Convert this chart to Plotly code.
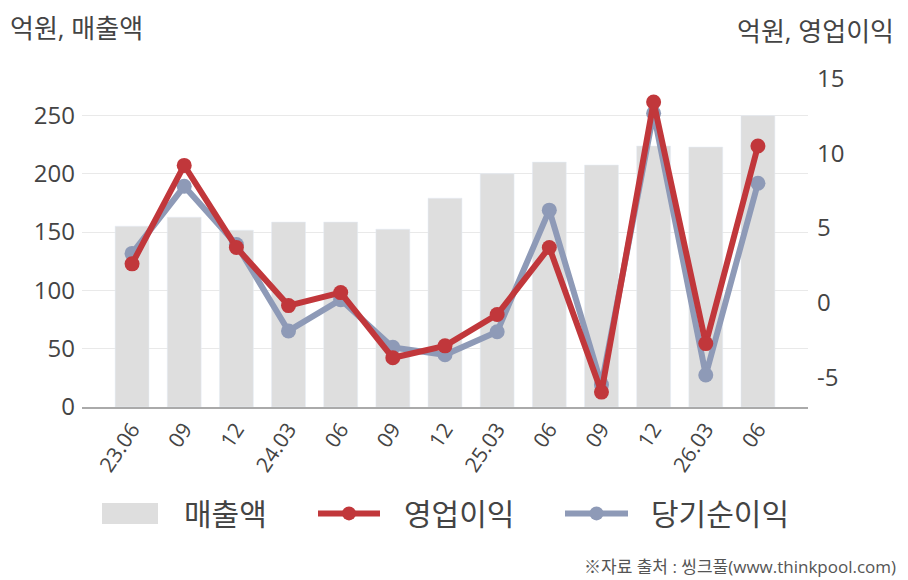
import plotly.graph_objects as go

# 분기 라벨과 실적 (억원)
quarters = ["23.06", "09", "12", "24.03", "06", "09", "12",
            "25.03", "06", "09", "12", "26.03", "06"]
sales = [155, 162.7, 151.6, 158.5, 158.5, 152.4, 179, 199.9, 209.9, 207.4, 223.7, 222.8, 249.7]
op_income = [2.6, 9.2, 3.7, -0.2, 0.67, -3.7, -2.9, -0.8, 3.7, -6.0, 13.45, -2.75, 10.5]
net_income = [3.3, 7.8, 3.9, -1.9, 0.2, -3.0, -3.5, -1.95, 6.2, -5.5, 12.7, -4.85, 8.0]
left_ticks = [0, 50, 100, 150, 200, 250]
right_ticks = [-5, 0, 5, 10, 15]

RED = "#c1373b"
BLUE = "#8e9ab7"
GREY_BAR = "#dedede"
TXT = "#444444"
FONT = "Open Sans, Noto Sans CJK KR"

W, H = 908, 580
L, R, T, B = 82, 808, 64, 406.7

xs = list(range(len(quarters)))

fig = go.Figure()
fig.add_trace(go.Bar(x=xs, y=sales, name="매출액", marker_color=GREY_BAR,
                     width=0.65, yaxis="y"))
fig.add_trace(go.Scatter(x=xs, y=net_income, name="당기순이익", yaxis="y2",
                         mode="lines+markers",
                         line=dict(color=BLUE, width=6),
                         marker=dict(color=BLUE, size=15)))
fig.add_trace(go.Scatter(x=xs, y=op_income, name="영업이익", yaxis="y2",
                         mode="lines+markers",
                         line=dict(color=RED, width=6),
                         marker=dict(color=RED, size=15)))


def px(x):
    return (x - L) / (R - L)


def py(y):
    return (B - y) / (B - T)


shapes = []
annotations = [
    dict(text="억원, 매출액", x=px(8), y=py(28), xanchor="left", yanchor="middle",
         font=dict(size=26, color=TXT)),
    dict(text="억원, 영업이익", x=px(896), y=py(31), xanchor="right", yanchor="middle",
         font=dict(size=26, color=TXT)),
    dict(text="※자료 출처 : 씽크풀(www.thinkpool.com)", x=px(898), y=py(566),
         xanchor="right", yanchor="middle", font=dict(size=17, color="#555555")),
]

# 범례 (직접 그림)
legend_items = [
    ("매출액", "bar", 102, 158, 182),
    ("영업이익", RED, 318, 380, 402),
    ("당기순이익", BLUE, 565, 628, 649),
]
ly = 513
for label, kind, x0, x1, tx in legend_items:
    if kind == "bar":
        shapes.append(dict(type="rect", xref="paper", yref="paper",
                           x0=px(x0), x1=px(x1), y0=py(ly + 10.5), y1=py(ly - 10.5),
                           fillcolor=GREY_BAR, line_width=0))
    else:
        shapes.append(dict(type="line", xref="paper", yref="paper",
                           x0=px(x0), x1=px(x1), y0=py(ly), y1=py(ly),
                           line=dict(color=kind, width=6)))
        cx = (x0 + x1) / 2
        shapes.append(dict(type="circle", xref="paper", yref="paper",
                           x0=px(cx - 7), x1=px(cx + 7), y0=py(ly + 7), y1=py(ly - 7),
                           fillcolor=kind, line_width=0))
    annotations.append(dict(text=label, x=px(tx), y=py(ly), xanchor="left",
                            yanchor="middle", font=dict(size=30, color=TXT)))

for a in annotations:
    a.update(xref="paper", yref="paper", showarrow=False)

fig.update_layout(
    width=W, height=H,
    margin=dict(l=L, r=W - R, t=T, b=H - B),
    paper_bgcolor="white", plot_bgcolor="white",
    font=dict(family=FONT, color=TXT),
    showlegend=False,
    bargap=0.35,
    xaxis=dict(tickmode="array", tickvals=xs, ticktext=quarters,
               range=[-0.96, 12.96], tickangle=-56,
               tickfont=dict(size=21, color=TXT),
               showline=True, linecolor="#aaaaaa", linewidth=1.5,
               showgrid=False, ticks="", zeroline=False),
    yaxis=dict(range=[0, 294], tickvals=left_ticks,
               ticktext=[str(v) for v in left_ticks],
               tickfont=dict(size=24, color=TXT), showgrid=True,
               gridcolor="#e9e9e9", zeroline=False, ticks="",
               ticklabelstandoff=6),
    yaxis2=dict(range=[-7, 16], tickvals=right_ticks,
                ticktext=[str(v) for v in right_ticks], overlaying="y",
                side="right", showgrid=False, zeroline=False,
                tickfont=dict(size=24, color=TXT), ticks="",
                ticklabelstandoff=8),
    shapes=shapes,
    annotations=annotations,
)

fig.write_html("out.html", config={"displayModeBar": False},
               post_script="document.body.style.margin='0';")
